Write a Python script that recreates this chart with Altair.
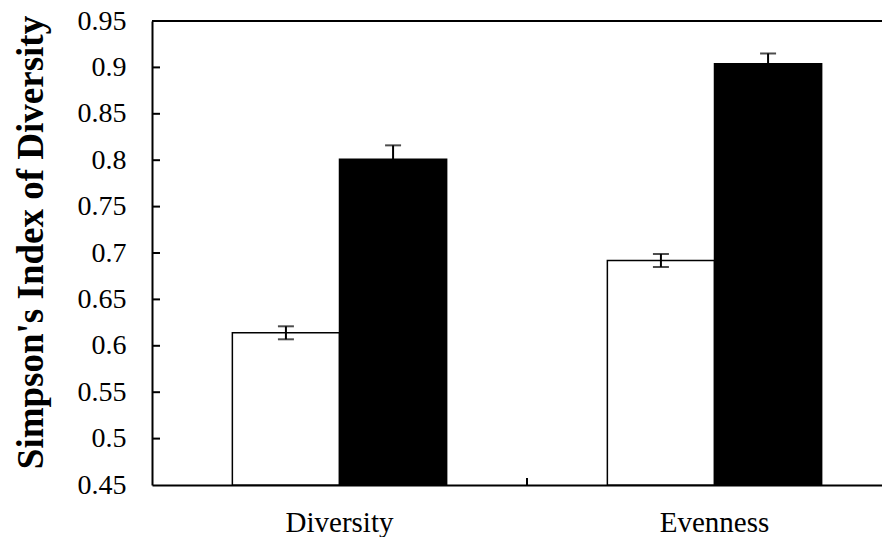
import altair as alt
import pandas as pd

categories = ["Diversity", "Evenness"]
series = ["Series 1", "Series 2"]
series1_values = [0.614, 0.692]
series1_errors = [0.007, 0.007]
series2_values = [0.801, 0.904]
series2_errors = [0.015, 0.011]
y_tick_values = [0.45, 0.5, 0.55, 0.6, 0.65, 0.7, 0.75, 0.8, 0.85, 0.9, 0.95]
inner_tick_values = [0.5, 0.55, 0.6, 0.65, 0.7, 0.75, 0.8, 0.85, 0.9]
boundary_categories = ["Evenness"]
y_min = 0.45
y_max = 0.95

rows = []
for i, c in enumerate(categories):
    rows.append(dict(category=c, series=series[0], value=series1_values[i], err=series1_errors[i]))
    rows.append(dict(category=c, series=series[1], value=series2_values[i], err=series2_errors[i]))
df = pd.DataFrame(rows)
df["lo"] = df["value"] - df["err"]
df["hi"] = df["value"] + df["err"]

W = 730   # visible plot width (the plot runs on past the right edge of the picture)
H = 464
FONT = "Liberation Serif"

xscale = alt.Scale(domain=categories, range=[0, 750], paddingInner=0, paddingOuter=0)
yscale = alt.Scale(domain=[y_min, y_max], zero=False, nice=False)
xo = alt.XOffset("series:N", sort=series,
                 scale=alt.Scale(paddingOuter=0.75, paddingInner=0))

x_axis = alt.Axis(title=None, labelFontSize=29, labelFont=FONT, labelColor="black",
                  labelAngle=0, ticks=False, domainColor="black", domainWidth=2,
                  labelPadding=23, grid=False)
y_axis = alt.Axis(title="Simpson's Index of Diversity", values=y_tick_values, format=".2~f",
                  labelFontSize=28, labelFont=FONT, labelColor="black", ticks=False,
                  domainColor="black", domainWidth=2, labelPadding=26, grid=False,
                  titleFont=FONT, titleFontSize=37, titleFontWeight="bold",
                  titleColor="black", titlePadding=27, titleY=221)


def X(**kw):
    return alt.X("category:N", sort=categories, scale=xscale, axis=x_axis, **kw)


def Y(field):
    return alt.Y(field, scale=yscale, axis=y_axis)


base = alt.Chart(df)

bars = base.mark_bar(stroke="black", strokeWidth=1.5).encode(
    x=X(),
    xOffset=xo,
    y=Y("value:Q"),
    y2=alt.datum(y_min),
    color=alt.Color("series:N", scale=alt.Scale(domain=series, range=["white", "black"]), legend=None),
)

err_line = base.mark_rule(color="black", strokeWidth=2).encode(
    x=X(), xOffset=xo, y=Y("lo:Q"), y2="hi:Q",
)
err_lo = base.mark_tick(color="black", thickness=2, size=16).encode(
    x=X(), xOffset=xo, y=Y("lo:Q"),
)
err_hi = base.mark_tick(color="black", thickness=2, size=16).encode(
    x=X(), xOffset=xo, y=Y("hi:Q"),
)

ytick_df = pd.DataFrame({"t": inner_tick_values})
yticks = alt.Chart(ytick_df).mark_rule(color="black", strokeWidth=2).encode(
    y=Y("t:Q"),
    x=alt.value(0),
    x2=alt.value(8),
)

xtick_df = pd.DataFrame({"category": boundary_categories})
xticks = alt.Chart(xtick_df).mark_rule(color="black", strokeWidth=2).encode(
    x=X(bandPosition=0),
    y=alt.value(H),
    y2=alt.value(H - 7),
)

top = alt.Chart(pd.DataFrame({"a": [0]})).mark_rule(color="black", strokeWidth=2).encode(
    x=alt.value(0), x2=alt.value(W + 20), y=alt.value(0)
)

chart = alt.layer(bars, err_line, err_lo, err_hi, yticks, xticks, top).properties(
    width=W, height=H,
    autosize=alt.AutoSizeParams(type="none"),
    padding={"left": 144, "top": 13, "right": 0, "bottom": 52},
    background="white",
).configure_view(stroke=None)

chart.save("out.html", embed_options={"renderer": "svg", "actions": False})
